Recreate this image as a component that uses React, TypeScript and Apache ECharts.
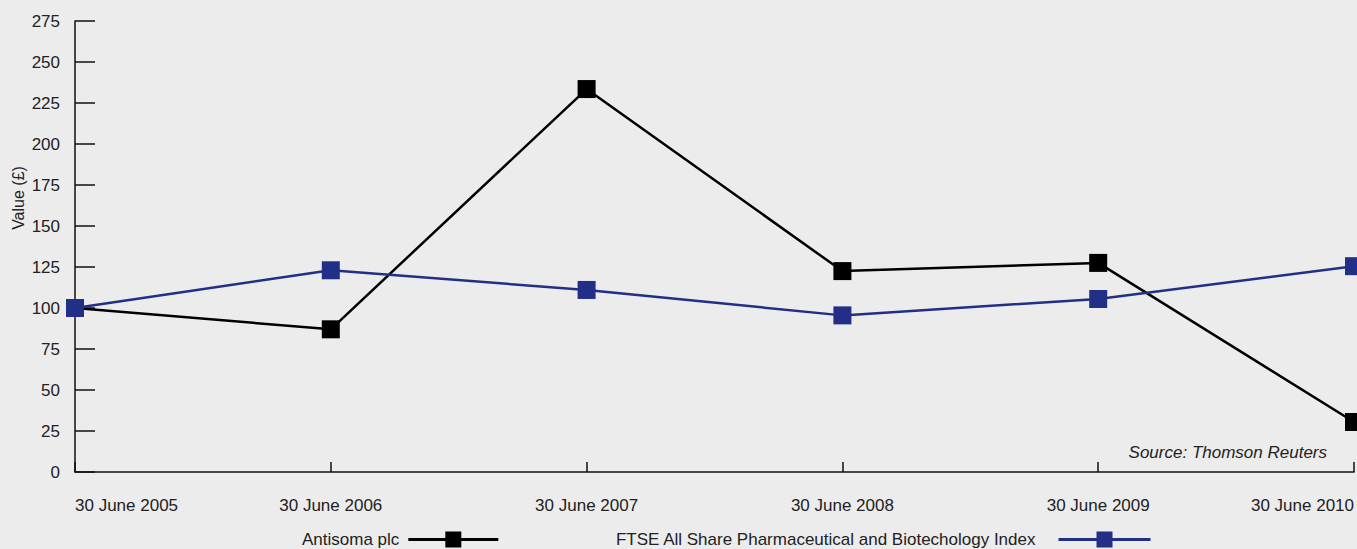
import React, { useEffect, useRef } from "react";
import * as echarts from "echarts";

const categories = [
  "30 June 2005",
  "30 June 2006",
  "30 June 2007",
  "30 June 2008",
  "30 June 2009",
  "30 June 2010",
];
const antisoma = [100, 87, 233.5, 122.5, 127.5, 30.5];
const ftse = [100, 123, 111, 95.5, 105.5, 125.5];

const FONT = "'Liberation Sans', Arial, Helvetica, sans-serif";
const TEXT = "#222222";
const BLUE = "#222f86";

export default function App() {
  const ref = useRef<HTMLDivElement>(null);
  useEffect(() => {
    if (!ref.current) return;
    const chart = echarts.init(ref.current, null, { renderer: "svg" });
    chart.setOption({
      animation: false,
      backgroundColor: "#ececec",
      textStyle: { fontFamily: FONT },
      grid: { left: 75, right: 0, top: 21, bottom: 77, containLabel: false },
      xAxis: {
        type: "category",
        data: categories,
        boundaryGap: false,
        axisLine: { show: true, lineStyle: { color: "#111", width: 1.5 } },
        axisTick: { show: true, inside: true, length: 10, lineStyle: { color: "#111", width: 1.5 } },
        axisLabel: {
          color: TEXT,
          fontSize: 17,
          margin: 25,
          alignMinLabel: "left",
          alignMaxLabel: "right",
          showMinLabel: true,
          showMaxLabel: true,
          interval: 0,
        },
        splitLine: { show: false },
      },
      yAxis: {
        type: "value",
        min: 0,
        max: 275,
        interval: 25,
        axisLine: { show: true, lineStyle: { color: "#111", width: 1.5 } },
        axisTick: { show: true, inside: true, length: 20, lineStyle: { color: "#111", width: 1.5 } },
        axisLabel: { color: TEXT, fontSize: 17, margin: 15 },
        splitLine: { show: false },
      },
      legend: [
        {
          data: ["Antisoma plc"],
          left: 297,
          top: 526,
          align: "right",
          itemWidth: 90,
          itemHeight: 20,
          lineStyle: { width: 3 },
          textStyle: { color: TEXT, fontSize: 17, fontFamily: FONT, padding: [0, 4, 0, 0] },
        },
        {
          data: ["FTSE All Share Pharmaceutical and Biotechology Index"],
          left: 610,
          top: 526,
          align: "right",
          itemWidth: 92,
          itemHeight: 20,
          lineStyle: { width: 3 },
          textStyle: { color: TEXT, fontSize: 17, fontFamily: FONT, padding: [0, 18, 0, 0] },
        },
      ],
      graphic: [
        {
          type: "text",
          x: 18,
          y: 198,
          rotation: Math.PI / 2,
          style: {
            text: "Value (£)",
            fill: TEXT,
            font: `16px ${FONT}`,
            align: "center",
            verticalAlign: "middle",
          },
        },
        {
          type: "text",
          x: 1327,
          y: 452,
          style: {
            text: "Source: Thomson Reuters",
            fill: TEXT,
            font: `italic 17px ${FONT}`,
            align: "right",
            verticalAlign: "middle",
          },
        },
      ],
      series: [
        {
          name: "Antisoma plc",
          type: "line",
          data: antisoma,
          symbol: "rect",
          symbolSize: 18,
          lineStyle: { color: "#000", width: 2.5 },
          itemStyle: { color: "#000" },
          clip: false,
          z: 3,
        },
        {
          name: "FTSE All Share Pharmaceutical and Biotechology Index",
          type: "line",
          data: ftse,
          symbol: "rect",
          symbolSize: 18,
          lineStyle: { color: BLUE, width: 2.5 },
          itemStyle: { color: BLUE },
          clip: false,
          z: 4,
        },
      ],
    });
    return () => chart.dispose();
  }, []);
  return (
    <div
      ref={ref}
      style={{ position: "fixed", left: 0, top: 0, width: 1357, height: 549 }}
    />
  );
}
